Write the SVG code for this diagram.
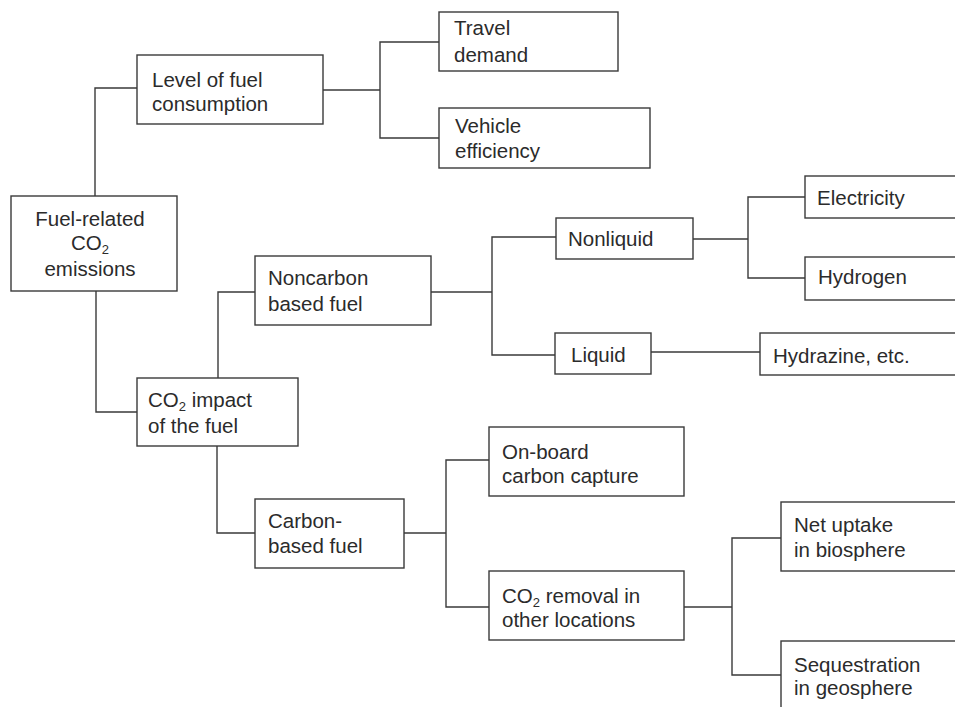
<svg xmlns="http://www.w3.org/2000/svg" width="955" height="707" viewBox="0 0 955 707">
<style>
.box{fill:#ffffff;stroke:#3a3a3a;stroke-width:1.4}
.con{fill:none;stroke:#3a3a3a;stroke-width:1.4}
text{font-family:"Liberation Sans",Arial,sans-serif;font-size:20.5px;fill:#2b2b2b}
.sub{font-size:13px}
</style>
<rect width="955" height="707" fill="#ffffff"/>
<g id="connectors">
<path class="con" d="M95,196 V88 H137"/>
<path class="con" d="M96,291 V412 H137"/>
<path class="con" d="M323,90 H380"/>
<path class="con" d="M439,42 H380 V138 H439"/>
<path class="con" d="M218,378 V292 H255"/>
<path class="con" d="M217,446 V533 H255"/>
<path class="con" d="M431,292 H492"/>
<path class="con" d="M556,237 H492 V355 H555"/>
<path class="con" d="M693,239 H748"/>
<path class="con" d="M805,197 H748 V278 H805"/>
<path class="con" d="M651,352 H760"/>
<path class="con" d="M404,533 H446"/>
<path class="con" d="M489,460 H446 V607 H489"/>
<path class="con" d="M684,607 H732"/>
<path class="con" d="M781,538 H732 V675 H781"/>
</g>
<g id="fuel-related">
<rect class="box" x="11" y="196" width="166" height="95"/>
<text x="90" y="226" text-anchor="middle">Fuel-related</text>
<text x="90" y="250" text-anchor="middle">CO<tspan class="sub" dy="3.5">2</tspan></text>
<text x="90" y="276" text-anchor="middle">emissions</text>
</g>
<g id="level">
<rect class="box" x="137" y="55" width="186" height="69"/>
<text x="152" y="87">Level of fuel</text>
<text x="152" y="111">consumption</text>
</g>
<g id="travel">
<rect class="box" x="439" y="12" width="179" height="59"/>
<text x="454" y="35">Travel</text>
<text x="454" y="62">demand</text>
</g>
<g id="vehicle">
<rect class="box" x="439" y="108" width="211" height="60"/>
<text x="455" y="133">Vehicle</text>
<text x="455" y="158">efficiency</text>
</g>
<g id="impact">
<rect class="box" x="137" y="378" width="161" height="68"/>
<text x="148" y="407">CO<tspan class="sub" dy="3.5">2</tspan><tspan dy="-3.5"> impact</tspan></text>
<text x="148" y="433">of the fuel</text>
</g>
<g id="noncarbon">
<rect class="box" x="255" y="256" width="176" height="69"/>
<text x="268" y="285">Noncarbon</text>
<text x="268" y="311">based fuel</text>
</g>
<g id="nonliquid">
<rect class="box" x="556" y="218" width="137" height="41"/>
<text x="568" y="246">Nonliquid</text>
</g>
<g id="liquid">
<rect class="box" x="555" y="333" width="96" height="41"/>
<text x="571" y="362">Liquid</text>
</g>
<g id="electricity">
<rect class="box" x="805" y="176" width="165" height="42"/>
<text x="817" y="205">Electricity</text>
</g>
<g id="hydrogen">
<rect class="box" x="805" y="257" width="165" height="43"/>
<text x="818" y="284">Hydrogen</text>
</g>
<g id="hydrazine">
<rect class="box" x="760" y="333" width="210" height="42"/>
<text x="773" y="363">Hydrazine, etc.</text>
</g>
<g id="carbon-based">
<rect class="box" x="255" y="499" width="149" height="69"/>
<text x="268" y="528">Carbon-</text>
<text x="268" y="553">based fuel</text>
</g>
<g id="onboard">
<rect class="box" x="489" y="427" width="195" height="69"/>
<text x="502" y="459">On-board</text>
<text x="502" y="483">carbon capture</text>
</g>
<g id="removal">
<rect class="box" x="489" y="571" width="195" height="69"/>
<text x="502" y="603">CO<tspan class="sub" dy="3.5">2</tspan><tspan dy="-3.5"> removal in</tspan></text>
<text x="502" y="627">other locations</text>
</g>
<g id="net-uptake">
<rect class="box" x="781" y="502" width="190" height="69"/>
<text x="794" y="532">Net uptake</text>
<text x="794" y="557">in biosphere</text>
</g>
<g id="sequestration">
<rect class="box" x="781" y="641" width="190" height="80"/>
<text x="794" y="672">Sequestration</text>
<text x="794" y="695">in geosphere</text>
</g>
</svg>
